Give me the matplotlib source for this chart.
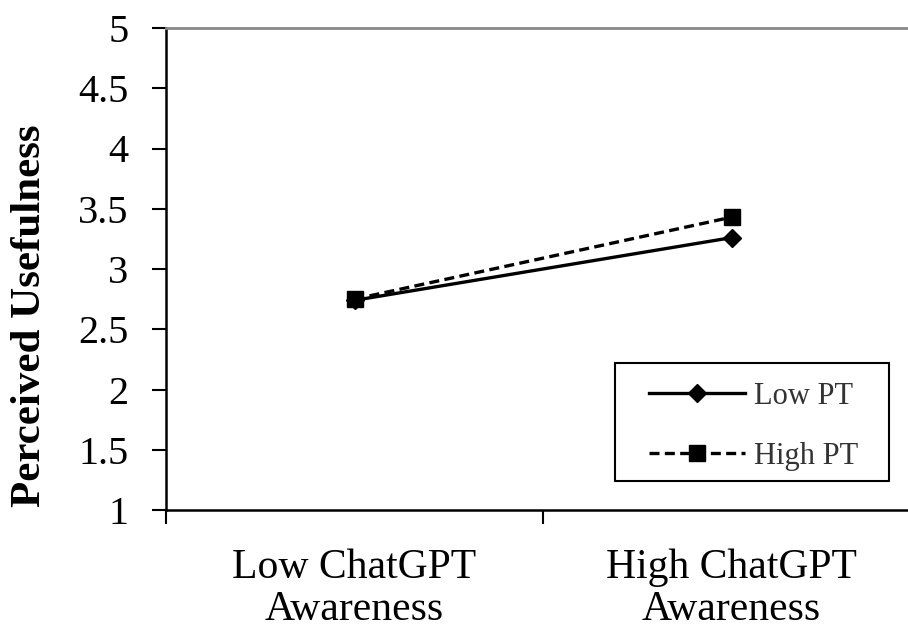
import matplotlib
matplotlib.use("Agg")
import matplotlib.pyplot as plt
from matplotlib.patches import Rectangle

# category positions sit in the middle of each band (ticks between categories)
categories = ["Low ChatGPT\nAwareness", "High ChatGPT\nAwareness"]
low_pt = [2.74, 3.26]
high_pt = [2.75, 3.43]
y_ticks = [1, 1.5, 2, 2.5, 3, 3.5, 4, 4.5, 5]
y_tick_labels = ["1", "1.5", "2", "2.5", "3", "3.5", "4", "4.5", "5"]

plt.rcParams["font.family"] = ["Liberation Serif", "DejaVu Serif"]

W, H = 908, 628
fig = plt.figure(figsize=(W / 100, H / 100), dpi=100)
ax = fig.add_axes([166 / W, (H - 510) / H, (920 - 166) / W, (510 - 28) / H])

x = [i + 0.5 for i in range(len(categories))]
ax.plot(x, low_pt, color="black", linewidth=2.4, marker="D", markersize=9,
        label="Low PT", zorder=3)
ax.plot(x, high_pt, color="black", linewidth=2.4, linestyle=(0, (3, 1.6)),
        marker="s", markersize=11, label="High PT", zorder=3)

ax.set_xlim(0, len(categories))
ax.set_ylim(1, 5)
ax.set_yticks(y_ticks)
ax.set_yticklabels(y_tick_labels, fontsize=29)
ax.set_xticks(range(len(categories) + 1))
ax.set_xticklabels([])
ax.tick_params(axis="both", direction="out", length=10, width=1.5, color="black")
ax.tick_params(axis="y", pad=17)

for xi, lab in zip(x, categories):
    ax.text(xi, -0.08, lab, transform=ax.get_xaxis_transform(), ha="center",
            va="top", fontsize=30, linespacing=1.12)

ax.spines["left"].set_linewidth(1.8)
ax.spines["bottom"].set_linewidth(1.8)
ax.spines["top"].set_color("#888888")
ax.spines["top"].set_linewidth(2)
ax.spines["right"].set_visible(False)

fig.text(30 / W, 1 - 316 / H, "Perceived Usefulness", rotation=90, fontsize=31,
         fontweight="bold", ha="center", va="center")

# legend entries without frame, box drawn separately (Excel-style padding)
leg = ax.legend(loc="upper left", bbox_to_anchor=(649 / W, 1 - 382 / H),
                bbox_transform=fig.transFigure, fontsize=22, frameon=False,
                borderaxespad=0, borderpad=0, handlelength=3.15,
                handletextpad=0.3, labelspacing=1.0)
for t in leg.get_texts():
    t.set_color("#333333")
fig.patches.append(Rectangle((615 / W, 1 - 481 / H), (889 - 615) / W, (481 - 363) / H,
                             transform=fig.transFigure, fill=False,
                             edgecolor="black", linewidth=1.5))

fig.savefig("out.png", dpi=100)
